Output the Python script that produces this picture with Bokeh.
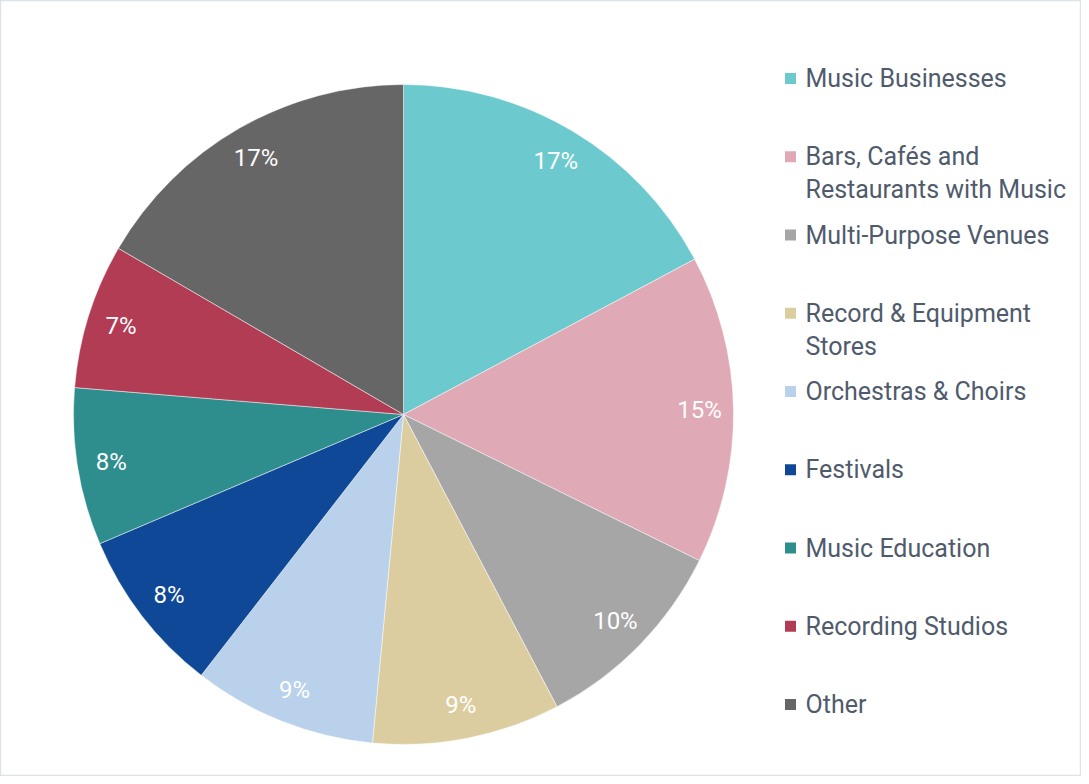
import math
from bokeh.plotting import figure
from bokeh.models import Range1d, ColumnDataSource
from bokeh.core.properties import value
from bokeh.embed import file_html
from bokeh.resources import INLINE

categories = ["Music Businesses", "Bars, Cafés and\nRestaurants with Music", "Multi-Purpose Venues",
              "Record & Equipment\nStores", "Orchestras & Choirs", "Festivals", "Music Education",
              "Recording Studios", "Other"]
shares = [17.2, 15.1, 10.0, 9.2, 9.0, 8.1, 7.7, 7.1, 16.6]
pct_labels = ["17%", "15%", "10%", "9%", "9%", "8%", "8%", "7%", "17%"]
colors = ["#6CCACF", "#DFAAB5", "#A6A6A6", "#DCCDA0", "#B9D1EA", "#0E4896", "#2E8E8D", "#B23C53", "#666666"]

W, H = 1081, 776
p = figure(width=W, height=H, output_backend="svg", toolbar_location=None,
           x_range=Range1d(0, W), y_range=Range1d(0, H), min_border=0)
p.axis.visible = False
p.grid.visible = False
p.outline_line_color = "#DDE3EA"
p.outline_line_width = 1.5
p.background_fill_color = "white"

cx, cy, r = 403, 362, 330
total = sum(shares)
starts, ends, lx, ly = [], [], [], []
acc = 0.0
for s in shares:
    a0 = math.pi / 2 - 2 * math.pi * (acc + s) / total
    a1 = math.pi / 2 - 2 * math.pi * acc / total
    starts.append(a0)
    ends.append(a1)
    mid = (a0 + a1) / 2
    lx.append(cx + 296 * math.cos(mid))
    ly.append(cy + 296 * math.sin(mid))
    acc += s

src = ColumnDataSource(dict(start=starts, end=ends, color=colors, lx=lx, ly=ly, lab=pct_labels))
p.wedge(x=cx, y=cy, radius=r, start_angle="start", end_angle="end", fill_color="color",
        line_color="white", line_width=0.6, line_alpha=0.8, source=src)
p.text(x="lx", y="ly", text="lab", source=src, text_color="white", text_font=value("Roboto"),
       text_font_size="24px", text_align="center", text_baseline="middle")

# legend
lg_mx, lg_tx, lg_y0, lg_step, lh = 790, 805, 698, 78.25, 33
mxs, mys, tx, ty, tt = [], [], [], [], []
for i, c in enumerate(categories):
    y = lg_y0 - lg_step * i
    mxs.append(lg_mx)
    mys.append(y)
    for j, line in enumerate(c.split("\n")):
        tx.append(lg_tx)
        ty.append(y - j * lh)
        tt.append(line)
p.scatter(x=mxs, y=mys, marker="square", size=11, fill_color=colors, line_color=None)
p.text(x=tx, y=ty, text=tt, text_color="#4F5B6C", text_font=value("Roboto"),
       text_font_size="25px", text_align="left", text_baseline="middle")

open("out.html", "w").write(file_html(p, INLINE))
